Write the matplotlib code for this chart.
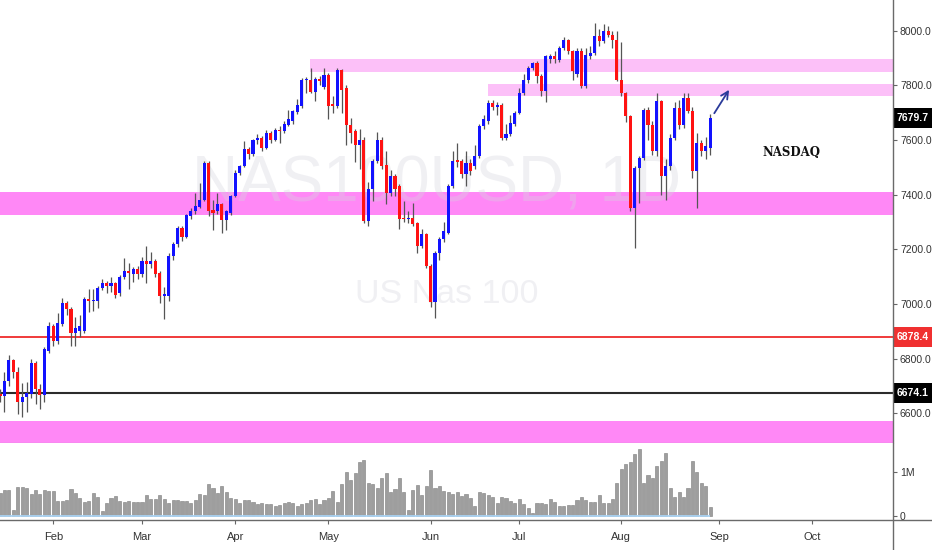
import matplotlib
matplotlib.use("Agg")
import matplotlib.pyplot as plt
from matplotlib import font_manager
from matplotlib.patches import Rectangle
from matplotlib.lines import Line2D
from matplotlib.transforms import blended_transform_factory
import numpy as np

installed = {f.name for f in font_manager.fontManager.ttflist}
sans = 'Liberation Sans Narrow' if 'Liberation Sans Narrow' in installed else 'Liberation Sans'
serif = 'DejaVu Serif Condensed' if 'DejaVu Serif Condensed' in installed else 'DejaVu Serif'
plt.rcParams['font.family'] = [sans, 'DejaVu Sans']

# daily NAS100USD bars, mid Jan -> end Aug 2019
opens = [6672, 6663, 6718, 6793, 6750, 6640, 6659, 6669, 6785, 6687,
         6666, 6827, 6919, 6864, 6925, 7002, 6982, 6895, 6900, 6901,
         7017, 7010, 7010, 7059, 7078, 7067, 7075, 7040, 7098, 7120,
         7108, 7126, 7108, 7157, 7145, 7157, 7114, 7029, 7029, 7175,
         7218, 7276, 7246, 7321, 7339, 7355, 7382, 7514, 7343, 7339,
         7364, 7306, 7333, 7394, 7480, 7504, 7565, 7547, 7598, 7608,
         7571, 7626, 7601, 7638, 7634, 7656, 7668, 7701, 7723, 7820,
         7821, 7776, 7822, 7793, 7837, 7730, 7723, 7857, 7790, 7656,
         7632, 7583, 7601, 7303, 7419, 7522, 7601, 7510, 7407, 7467,
         7431, 7315, 7309, 7315, 7297, 7211, 7254, 7138, 7007, 7187,
         7236, 7260, 7431, 7525, 7522, 7477, 7514, 7504, 7541, 7650,
         7669, 7736, 7721, 7729, 7608, 7620, 7660, 7699, 7770, 7818,
         7864, 7882, 7833, 7778, 7896, 7906, 7894, 7937, 7967, 7924,
         7840, 7925, 7796, 7906, 7919, 7979, 7961, 7997, 7985, 7967,
         7821, 7772, 7687, 7352, 7498, 7535, 7711, 7656, 7559, 7741,
         7467, 7504, 7608, 7718, 7656, 7754, 7705, 7486, 7589, 7559,
         7571]
closes = [6663, 6718, 6793, 6750, 6640, 6661, 6675, 6785, 6687, 6666,
          6834, 6919, 6864, 6929, 7002, 6980, 6895, 6913, 6918, 7017,
          7010, 7015, 7059, 7078, 7067, 7075, 7031, 7098, 7120, 7112,
          7126, 7108, 7157, 7145, 7157, 7108, 7029, 7035, 7177, 7218,
          7276, 7246, 7324, 7339, 7358, 7382, 7514, 7339, 7333, 7364,
          7306, 7339, 7394, 7480, 7504, 7565, 7547, 7598, 7607, 7571,
          7626, 7601, 7638, 7632, 7659, 7675, 7705, 7726, 7821, 7823,
          7776, 7822, 7815, 7837, 7723, 7723, 7857, 7784, 7656, 7626,
          7583, 7601, 7303, 7419, 7522, 7601, 7504, 7407, 7467, 7419,
          7309, 7309, 7313, 7291, 7211, 7254, 7138, 7007, 7187, 7236,
          7266, 7431, 7522, 7519, 7477, 7514, 7486, 7541, 7650, 7675,
          7736, 7721, 7729, 7608, 7620, 7663, 7699, 7770, 7818, 7864,
          7882, 7833, 7778, 7906, 7906, 7896, 7937, 7967, 7924, 7851,
          7925, 7796, 7912, 7919, 7979, 7961, 7997, 7985, 7967, 7821,
          7772, 7687, 7352, 7498, 7535, 7711, 7656, 7559, 7741, 7467,
          7504, 7608, 7718, 7656, 7754, 7705, 7486, 7589, 7559, 7577,
          7680]
highs = [6690, 6750, 6812, 6800, 6768, 6710, 6713, 6800, 6790, 6706,
         6841, 6934, 6925, 6968, 7023, 7010, 6990, 6951, 6960, 7025,
         7053, 7053, 7065, 7090, 7085, 7100, 7080, 7105, 7169, 7151,
         7135, 7140, 7170, 7212, 7190, 7165, 7120, 7060, 7185, 7225,
         7285, 7285, 7330, 7350, 7407, 7443, 7522, 7522, 7382, 7407,
         7370, 7345, 7400, 7490, 7510, 7595, 7575, 7605, 7620, 7615,
         7635, 7632, 7645, 7650, 7668, 7711, 7711, 7748, 7828, 7830,
         7864, 7830, 7835, 7864, 7845, 7760, 7862, 7860, 7800, 7680,
         7640, 7640, 7610, 7445, 7530, 7630, 7610, 7560, 7490, 7475,
         7440, 7375, 7340, 7370, 7300, 7275, 7260, 7145, 7195, 7245,
         7300, 7440, 7560, 7590, 7530, 7560, 7530, 7580, 7660, 7690,
         7745, 7745, 7740, 7735, 7660, 7690, 7705, 7790, 7840, 7870,
         7885, 7890, 7840, 7910, 7915, 7925, 7945, 7975, 7970, 7930,
         7935, 7935, 7935, 7945, 8027, 8005, 8025, 8018, 8000, 8000,
         7960, 7775, 7690, 7505, 7540, 7718, 7720, 7670, 7770, 7745,
         7530, 7620, 7740, 7745, 7770, 7770, 7720, 7625, 7600, 7610,
         7695]
lows = [6640, 6603, 6700, 6728, 6596, 6585, 6603, 6655, 6633, 6615,
        6640, 6820, 6846, 6852, 6920, 6960, 6846, 6846, 6880, 6895,
        6969, 6975, 6985, 7050, 7040, 7045, 7020, 7030, 7090, 7053,
        7080, 7090, 7100, 7078, 7130, 7100, 7004, 6943, 7010, 7160,
        7210, 7230, 7240, 7310, 7330, 7350, 7375, 7320, 7272, 7330,
        7260, 7272, 7325, 7390, 7470, 7500, 7530, 7540, 7585, 7560,
        7565, 7590, 7595, 7589, 7625, 7650, 7660, 7695, 7718, 7770,
        7770, 7744, 7800, 7785, 7675, 7700, 7715, 7700, 7583, 7590,
        7520, 7493, 7295, 7285, 7375, 7515, 7495, 7365, 7395, 7395,
        7273, 7300, 7295, 7285, 7188, 7205, 7130, 6990, 6950, 7160,
        7225, 7255, 7425, 7500, 7460, 7431, 7470, 7495, 7535, 7640,
        7660, 7710, 7690, 7600, 7600, 7615, 7650, 7695, 7765, 7810,
        7855, 7810, 7760, 7740, 7880, 7880, 7885, 7930, 7915, 7820,
        7830, 7790, 7790, 7895, 7910, 7945, 7955, 7975, 7935, 7815,
        7760, 7665, 7340, 7206, 7370, 7525, 7600, 7545, 7540, 7400,
        7382, 7490, 7600, 7640, 7645, 7700, 7460, 7352, 7540, 7530,
        7545]
# volume in millions
volumes = [.52, .59, .59, .14, .67, .67, .64, .50, .59, .50,
           .59, .57, .57, .34, .34, .36, .61, .52, .42, .32,
           .34, .52, .44, .11, .29, .40, .46, .34, .33, .34,
           .33, .33, .33, .49, .39, .39, .49, .39, .29, .36,
           .36, .35, .35, .29, .36, .50, .48, .73, .64, .52,
           .68, .55, .42, .39, .29, .36, .36, .32, .27, .29,
           .27, .27, .23, .24, .29, .32, .29, .23, .27, .29,
           .36, .39, .27, .36, .42, .58, .32, .73, 1.00, .82,
           .98, 1.23, 1.29, .76, .73, .65, .88, .98, .55, .61,
           .88, .55, .14, .59, .70, .48, .68, 1.06, .64, .68,
           .58, .55, .50, .54, .45, .50, .42, .23, .55, .52,
           .49, .44, .29, .44, .40, .35, .30, .39, .27, .19,
           .06, .30, .30, .27, .39, .32, .23, .23, .24, .24,
           .36, .44, .36, .33, .33, .48, .29, .29, .39, .76,
           1.08, 1.20, 1.23, 1.42, 1.54, .76, .93, .86, 1.14, 1.26,
           1.44, .65, .44, .55, .44, .63, 1.26, 1.01, .76, .68,
           .21]

month_pos = [12, 32, 53, 74, 97, 117, 140, 162, 183]
month_names = ['Feb', 'Mar', 'Apr', 'May', 'Jun', 'Jul', 'Aug', 'Sep', 'Oct']

support_zone = (7324, 7408)
floor_zone = (6470, 6570)
resistance_zones = [(7850, 7897, 69.8), (7759, 7806, 110)]  # low, high, first bar
red_level = 6878.4
black_level = 6674.1
last_price = 7679.7
arrow_from = (160.6, 7689)
arrow_to = (164.6, 7792)

W, H = 932, 550
fig = plt.figure(figsize=(W / 100, H / 100), dpi=100)
ax = fig.add_axes([0, 1 - 443 / H, 893 / W, 443 / H])
axv = fig.add_axes([0, 1 - 520 / H, 893 / W, 77 / H])

x = np.arange(len(closes))
o = np.array(opens, float)
c = np.array(closes, float)
rising = c >= o
cols = np.where(rising, '#1212ff', '#ff1212')
body = c - o
body = np.where(np.abs(body) < 4, np.where(rising, 4, -4), body)

ax.vlines(x, lows, highs, color='#555555', lw=0.9, zorder=4)
ax.bar(x, body, bottom=o, width=0.7, color=cols, lw=0, zorder=5)

ax.axhspan(*support_zone, color='#ff88f6', lw=0, zorder=1)
ax.axhspan(*floor_zone, color='#ff88f6', lw=0, zorder=1)
for lo, hi, start in resistance_zones:
    ax.add_patch(Rectangle((start, lo), 400, hi - lo, facecolor='#fcc0f8', lw=0, zorder=1))

ax.axhline(red_level, color='#f03a3a', lw=1.4, zorder=2)
ax.axhline(black_level, color='#2b2b2b', lw=1.5, zorder=2)

ax.annotate('', xy=arrow_to, xytext=arrow_from,
            arrowprops=dict(arrowstyle='->', color='#2a3a9a', lw=1.3, mutation_scale=13),
            zorder=6)

ax.set_xlim(0, 201.2)
ax.set_ylim(6491, 8112)
ticks = np.arange(6600, 8001, 200)
ax.yaxis.tick_right()
ax.set_yticks(ticks, [f'{t:.1f}' for t in ticks])
ax.tick_params(axis='y', length=3, width=0.8, color='#666666', labelsize=7.5,
               labelcolor='#333333', pad=2)
ax.tick_params(axis='x', bottom=False, labelbottom=False)
for s in ['left', 'top', 'right']:
    ax.spines[s].set_visible(False)
ax.spines['bottom'].set_color('#8a8a8a')

# price tags on the scale
bt = blended_transform_factory(ax.transAxes, ax.transData)
half = 10 * (8112 - 6491) / 443
for level, face in [(last_price, '#000000'), (red_level, '#f03030'), (black_level, '#000000')]:
    ax.add_patch(Rectangle((1.0, level - half), 40 / 893, 2 * half, transform=bt,
                           facecolor=face, edgecolor='none', clip_on=False, zorder=8))
    ax.text(1.0 + 20 / 893, level, f'{level:.1f}', transform=bt, color='white',
            fontsize=7.5, fontweight='bold', va='center', ha='center', clip_on=False, zorder=9)

# watermark and note
wm1 = ax.text(192 / W, 1 - 202 / H, 'NAS100USD, 1D', transform=fig.transFigure,
              fontsize=60, color='#d4d4de', alpha=0.35, ha='left', va='baseline', zorder=1.5)
wm2 = ax.text(355 / W, 1 - 303 / H, 'US Nas 100', transform=fig.transFigure,
              fontsize=30, color='#d4d4de', alpha=0.35, ha='left', va='baseline', zorder=1.5)
note = ax.text(762 / W, 1 - 156 / H, 'NASDAQ', transform=fig.transFigure, family=serif,
               fontweight='bold', fontsize=11, color='#111111', ha='left', va='baseline', zorder=7)

# volume pane
axv.bar(x, volumes, width=0.7, color='#9e9e9e', edgecolor='#7c7c7c', lw=0.4, zorder=2)
axv.hlines(0, x[0], x[-1], color='#a9d2f2', lw=1.3, zorder=3)
axv.set_xlim(ax.get_xlim())
axv.set_ylim(-0.092, 1.67)
axv.yaxis.tick_right()
axv.set_yticks([0, 1], ['0', '1M'])
axv.set_xticks(month_pos, month_names)
axv.tick_params(axis='y', length=3, width=0.8, color='#666666', labelsize=7.5,
                labelcolor='#333333', pad=2)
axv.tick_params(axis='x', length=3, width=0.8, color='#666666', labelsize=8,
                labelcolor='#333333', pad=6)
for s in axv.spines.values():
    s.set_visible(False)

fig.add_artist(Line2D([893 / W, 893 / W], [0, 1], transform=fig.transFigure, color='#6a6a6a', lw=1))
fig.add_artist(Line2D([0, 1], [1 - 520 / H, 1 - 520 / H], transform=fig.transFigure, color='#6a6a6a', lw=1))

# fit watermark / note widths to the screenshot
fig.canvas.draw()
r = fig.canvas.get_renderer()
for t, target in [(wm1, 490), (wm2, 183), (note, 58)]:
    w = t.get_window_extent(r).width
    t.set_fontsize(t.get_fontsize() * target / w)

fig.savefig('out.png', dpi=100)
